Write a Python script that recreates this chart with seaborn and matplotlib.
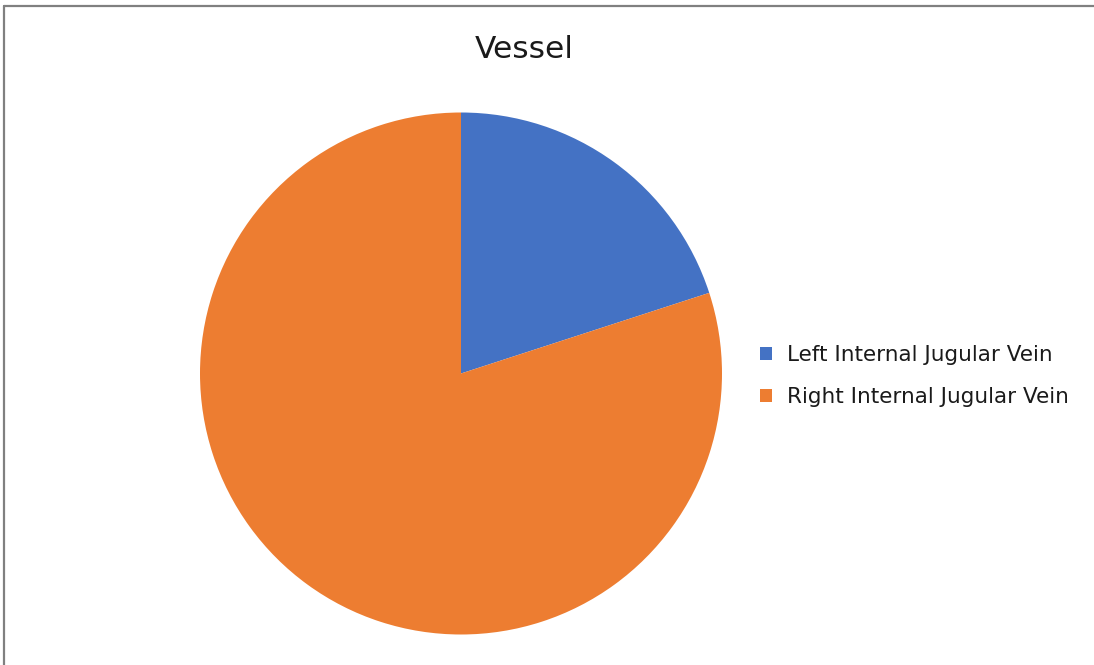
import matplotlib
matplotlib.use("Agg")
import matplotlib.pyplot as plt
from matplotlib.patches import Patch
from matplotlib.lines import Line2D
import seaborn as sns

# Vessel used for access (share of cases)
vessels = ["Left Internal Jugular Vein", "Right Internal Jugular Vein"]
shares = [20, 80]
colors = ["#4472C4", "#ED7D31"]

sns.set_theme(style="white")
plt.rcParams["font.family"] = ["DejaVu Sans"]

W, H = 1094, 665
fig = plt.figure(figsize=(W / 100, H / 100), dpi=100)
fig.patch.set_facecolor("white")

# pie placed in pixel terms: centre and radius
cx, cy, r = 461, 373.5, 261
ax = fig.add_axes([(cx - r) / W, 1 - (cy + r) / H, 2 * r / W, 2 * r / H])
wedges, _ = ax.pie(shares, colors=colors, startangle=90, counterclock=False,
                   radius=1, wedgeprops=dict(linewidth=0))
ax.set_xlim(-1, 1)
ax.set_ylim(-1, 1)
ax.set_aspect("equal")
ax.axis("off")

fig.text(524 / W, 1 - 50 / H, "Vessel", ha="center", va="center",
         fontsize=22.5, color="#1a1a1a")

handles = [Patch(facecolor=c, edgecolor="none") for c in colors]
fig.legend(handles, vessels, loc="center left",
           bbox_to_anchor=(756 / W, 1 - 376 / H), frameon=False,
           fontsize=15.5, handlelength=0.56, handleheight=0.56,
           handletextpad=0.68, labelspacing=1.0, labelcolor="#1a1a1a",
           borderaxespad=0, borderpad=0.2)

# outer frame (top and left edges)
fig.add_artist(Line2D([3.5 / W, 1], [1 - 5.5 / H, 1 - 5.5 / H],
                      transform=fig.transFigure, color="#808080", lw=1.6))
fig.add_artist(Line2D([3.5 / W, 3.5 / W], [0, 1 - 5.5 / H],
                      transform=fig.transFigure, color="#808080", lw=1.6))

fig.savefig("out.png", dpi=100)
